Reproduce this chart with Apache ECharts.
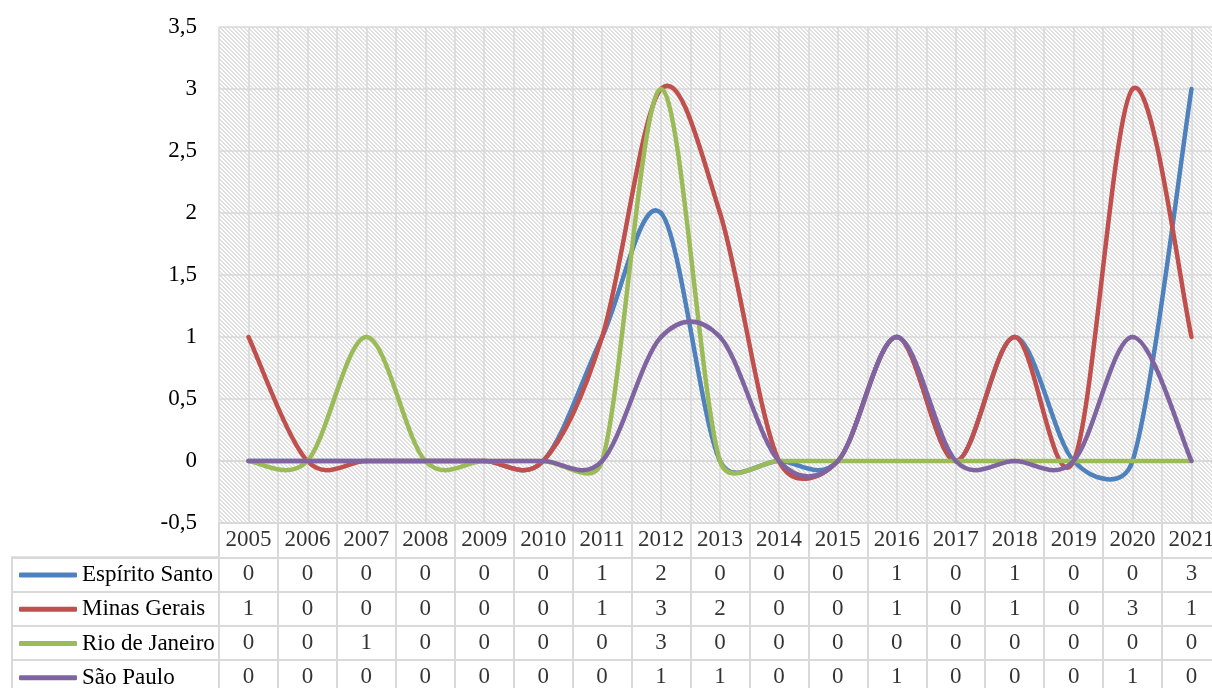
<!DOCTYPE html>
<html>
<head>
<meta charset="utf-8">
<script src="https://cdn.jsdelivr.net/npm/echarts@6/dist/echarts.min.js"></script>
<style>
html,body{margin:0;padding:0;background:#fff;}
#chart{width:1212px;height:688px;}
</style>
</head>
<body>
<div id="chart"></div>
<script>
const years = ['2005','2006','2007','2008','2009','2010','2011','2012','2013','2014','2015','2016','2017','2018','2019','2020','2021'];
const seriesNames = ['Espírito Santo','Minas Gerais','Rio de Janeiro','São Paulo'];
const espiritoSanto = [0,0,0,0,0,0,1,2,0,0,0,1,0,1,0,0,3];
const minasGerais   = [1,0,0,0,0,0,1,3,2,0,0,1,0,1,0,3,1];
const rioDeJaneiro  = [0,0,1,0,0,0,0,3,0,0,0,0,0,0,0,0,0];
const saoPaulo      = [0,0,0,0,0,0,0,1,1,0,0,1,0,0,0,1,0];
const yTicks = { min: -0.5, max: 3.5, interval: 0.5 };

const seriesValues = [espiritoSanto, minasGerais, rioDeJaneiro, saoPaulo];
const colors = ['#4F81BD','#C0504D','#9BBB59','#8064A2'];
const FONT = '"Liberation Serif", "Times New Roman", serif';
const GRIDC = '#d9d9d9';
const FS = 23;

// hatch pattern for plot background
const pc = document.createElement('canvas');
pc.width = 4; pc.height = 4;
const pctx = pc.getContext('2d');
pctx.fillStyle = '#ffffff'; pctx.fillRect(0,0,4,4);
pctx.fillStyle = '#e0e0e0';
for (let i = 0; i < 4; i++) { pctx.fillRect(i, i, 1, 1); pctx.fillRect((i+1)%4, i, 1, 1); }

// Excel-style smoothed line, drawn segment by segment from the data via api.coord
function makeRender(vals, color) {
  const n = vals.length;
  function limit(p, c, q) {
    const dx = c[0] - p[0], dy = c[1] - p[1];
    const len = Math.hypot(dx, dy);
    const seg = Math.hypot(q[0] - p[0], q[1] - p[1]) / 2;
    if (len > seg && len > 0) { const s = seg / len; return [p[0] + dx * s, p[1] + dy * s]; }
    return c;
  }
  return function (params, api) {
    const i = params.dataIndex;
    if (i >= n - 1) return null;
    const P = k => { const c = Math.max(0, Math.min(n - 1, k)); return api.coord([c, vals[c]]); };
    const p0 = P(i - 1), p1 = P(i), p2 = P(i + 1), p3 = P(i + 2);
    let c1 = [p1[0] + (p2[0] - p0[0]) / 6, p1[1] + (p2[1] - p0[1]) / 6];
    let c2 = [p2[0] - (p3[0] - p1[0]) / 6, p2[1] - (p3[1] - p1[1]) / 6];
    c1 = limit(p1, c1, p2);
    c2 = limit(p2, c2, p1);
    return {
      type: 'bezierCurve',
      shape: { x1: p1[0], y1: p1[1], x2: p2[0], y2: p2[1], cpx1: c1[0], cpy1: c1[1], cpx2: c2[0], cpy2: c2[1] },
      style: { stroke: color, lineWidth: 4.5, fill: null, lineCap: 'round' }
    };
  };
}

const tableRows = ['hdr'].concat(seriesNames);
const tableData = [];
years.forEach((y, i) => tableData.push([i, 0, y]));
seriesValues.forEach((vals, r) => vals.forEach((v, i) => tableData.push([i, r + 1, String(v)])));

const CATW = 58.94;
const PLOT_W = CATW * years.length;
const ROWH = 34.3;

const chart = echarts.init(document.getElementById('chart'), null, { renderer: 'canvas' });
const option = {
  animation: false,
  backgroundColor: '#ffffff',
  textStyle: { fontFamily: FONT },
  grid: [
    { left: 219, width: PLOT_W, top: 27, height: 496, outerBoundsMode: 'none', containLabel: false,
      show: true, backgroundColor: { image: pc, repeat: 'repeat' }, borderWidth: 0 },
    { left: 219, width: PLOT_W, top: 523, height: ROWH * 5, outerBoundsMode: 'none', containLabel: false,
      show: true, borderColor: GRIDC, borderWidth: 2, backgroundColor: 'transparent' },
    { left: 12, width: 207, top: 523 + ROWH, height: ROWH * 4, outerBoundsMode: 'none', containLabel: false,
      show: true, borderColor: GRIDC, borderWidth: 2, backgroundColor: 'transparent' }
  ],
  legend: seriesNames.map((s, k) => ({
    orient: 'vertical', left: 19, top: 523 + ROWH * (k + 1.5) - 11, padding: 0,
    itemWidth: 58, itemHeight: 5, icon: 'roundRect', selectedMode: false,
    textStyle: { fontFamily: FONT, fontSize: FS, color: '#000', lineHeight: 22 },
    data: [{ name: s, itemStyle: { color: colors[k] } }]
  })),
  xAxis: [
    { type: 'category', gridIndex: 0, data: years, boundaryGap: true,
      axisLine: { show: true, lineStyle: { color: GRIDC, width: 2 } }, axisTick: { show: false },
      axisLabel: { show: false }, splitLine: { show: false } },
    { type: 'value', gridIndex: 0, min: 0, max: 17, interval: 0.5,
      axisLine: { show: false }, axisTick: { show: false }, axisLabel: { show: false },
      splitLine: { show: true, lineStyle: { color: GRIDC, width: 1.5 } } },
    { type: 'category', gridIndex: 1, data: years, boundaryGap: true,
      axisLine: { show: false }, axisTick: { show: false }, axisLabel: { show: false },
      splitLine: { show: true, interval: 0, lineStyle: { color: GRIDC, width: 2 } } },
    { type: 'value', gridIndex: 2, min: 0, max: 1, show: false }
  ],
  yAxis: [
    { type: 'value', gridIndex: 0, min: yTicks.min, max: yTicks.max, interval: yTicks.interval,
      axisLine: { show: false }, axisTick: { show: false },
      axisLabel: { fontFamily: FONT, fontSize: FS, color: '#000', margin: 22,
        formatter: v => String(v).replace('.', ',') },
      splitLine: { show: true, lineStyle: { color: GRIDC, width: 1.5 } } },
    { type: 'category', gridIndex: 1, data: tableRows, inverse: true, boundaryGap: true,
      axisLine: { show: false }, axisTick: { show: false }, axisLabel: { show: false },
      splitLine: { show: true, interval: 0, lineStyle: { color: GRIDC, width: 2 } } },
    { type: 'category', gridIndex: 2, data: seriesNames, inverse: true, boundaryGap: true,
      axisLine: { show: false }, axisTick: { show: false }, axisLabel: { show: false },
      splitLine: { show: true, interval: 0, lineStyle: { color: GRIDC, width: 2 } } }
  ],
  series: seriesNames.map((name, k) => ({
    name: name, type: 'custom', xAxisIndex: 0, yAxisIndex: 0,
    itemStyle: { color: colors[k] },
    renderItem: makeRender(seriesValues[k], colors[k]),
    data: seriesValues[k].map((v, i) => [i, v]),
    encode: { x: 0, y: 1 },
    clip: false,
    silent: true
  })).concat([{
    name: 'table', type: 'scatter', xAxisIndex: 2, yAxisIndex: 1,
    symbolSize: 1, itemStyle: { color: 'rgba(0,0,0,0)' }, silent: true,
    data: tableData,
    label: { show: true, position: 'inside', formatter: p => p.value[2],
      fontFamily: FONT, fontSize: FS, color: '#000' }
  }])
};
chart.setOption(option);
</script>
</body>
</html>
